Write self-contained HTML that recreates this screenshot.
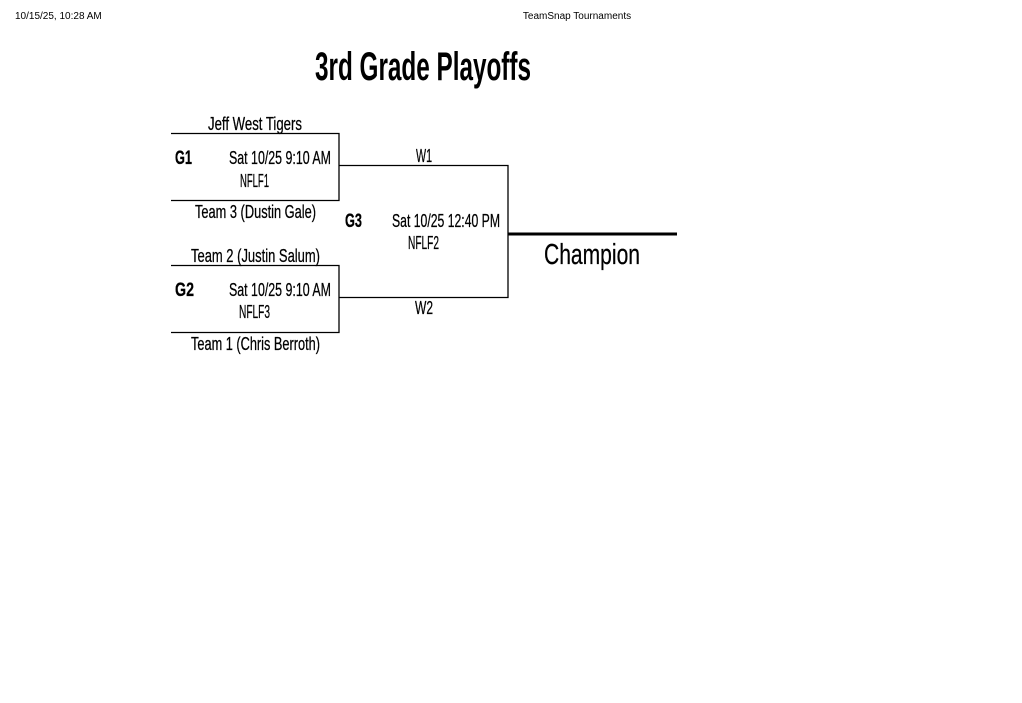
<!DOCTYPE html>
<html><head><meta charset="utf-8"><style>
html,body{margin:0;padding:0;background:#fff;}
svg{display:block;}
text{font-family:"Liberation Sans",sans-serif;fill:#000;}
.b text{stroke:#000;stroke-width:0.25;}
</style></head><body>
<svg width="1022" height="703" viewBox="0 0 1022 703" xmlns="http://www.w3.org/2000/svg">
<text x="15" y="19" font-size="10">10/15/25, 10:28 AM</text>
<text x="577" y="19" font-size="10" text-anchor="middle">TeamSnap Tournaments</text>
<text x="315" y="80" font-size="40" font-weight="bold" textLength="216" lengthAdjust="spacingAndGlyphs">3rd Grade Playoffs</text>
<g stroke="#000" stroke-width="1.3" fill="none">
<path d="M171 133.5H339V200.5H171"/>
<path d="M171 265.5H339V332.5H171"/>
<path d="M339 165.5H508V297.5H339"/>
</g>
<path d="M508 234H677" stroke="#000" stroke-width="3"/>
<g font-size="18" class="b">
<text x="208" y="130" textLength="94" lengthAdjust="spacingAndGlyphs">Jeff West Tigers</text>
<text x="175" y="164" font-size="19" font-weight="bold" textLength="17" lengthAdjust="spacingAndGlyphs">G1</text>
<text x="229" y="164" textLength="102" lengthAdjust="spacingAndGlyphs">Sat 10/25  9:10 AM</text>
<text x="240" y="187" textLength="29" lengthAdjust="spacingAndGlyphs">NFLF1</text>
<text x="195" y="218" textLength="121" lengthAdjust="spacingAndGlyphs">Team 3 (Dustin Gale)</text>
<text x="191" y="262" textLength="129" lengthAdjust="spacingAndGlyphs">Team 2 (Justin Salum)</text>
<text x="175" y="296" font-size="19" font-weight="bold" textLength="19" lengthAdjust="spacingAndGlyphs">G2</text>
<text x="229" y="296" textLength="102" lengthAdjust="spacingAndGlyphs">Sat 10/25  9:10 AM</text>
<text x="239" y="318" textLength="31" lengthAdjust="spacingAndGlyphs">NFLF3</text>
<text x="191" y="350" textLength="129" lengthAdjust="spacingAndGlyphs">Team 1 (Chris Berroth)</text>
<text x="416" y="162" textLength="16" lengthAdjust="spacingAndGlyphs">W1</text>
<text x="415" y="314" textLength="18" lengthAdjust="spacingAndGlyphs">W2</text>
<text x="345" y="227" font-size="19" font-weight="bold" textLength="17" lengthAdjust="spacingAndGlyphs">G3</text>
<text x="392" y="227" textLength="108" lengthAdjust="spacingAndGlyphs">Sat 10/25  12:40 PM</text>
<text x="408" y="249" textLength="31" lengthAdjust="spacingAndGlyphs">NFLF2</text>
<text x="544" y="264" font-size="29" textLength="96" lengthAdjust="spacingAndGlyphs">Champion</text>
</g>
</svg>
</body></html>
